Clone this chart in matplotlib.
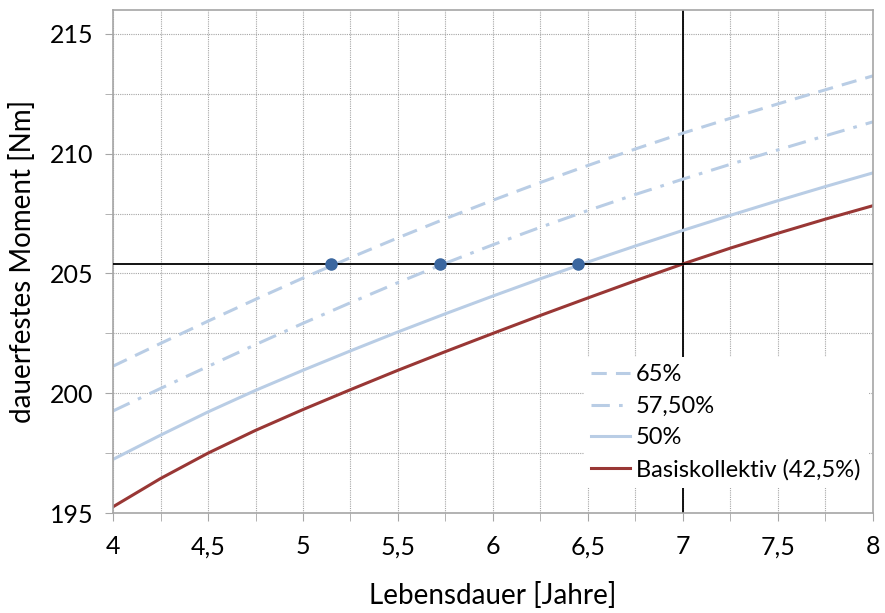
import matplotlib.pyplot as plt
from matplotlib.ticker import MultipleLocator, FuncFormatter

# Curve values (x = Lebensdauer in Jahren)
years = [4.0, 4.25, 4.5, 4.75, 5.0, 5.25, 5.5, 5.75, 6.0,
         6.25, 6.5, 6.75, 7.0, 7.25, 7.5, 7.75, 8.0]
m_65 = [201.13, 202.08, 203.01, 203.92, 204.81, 205.66, 206.49, 207.29, 208.06,
        208.8, 209.51, 210.2, 210.86, 211.48, 212.08, 212.67, 213.25]
m_575 = [199.26, 200.2, 201.12, 202.03, 202.92, 203.78, 204.62, 205.43, 206.2,
         206.93, 207.63, 208.3, 208.94, 209.56, 210.16, 210.75, 211.33]
m_50 = [197.24, 198.25, 199.22, 200.12, 200.96, 201.77, 202.56, 203.32, 204.06,
        204.78, 205.48, 206.15, 206.8, 207.43, 208.04, 208.63, 209.2]
m_base = [195.26, 196.44, 197.5, 198.45, 199.32, 200.15, 200.96, 201.74, 202.5,
          203.25, 203.98, 204.7, 205.4, 206.06, 206.68, 207.27, 207.83]

target_moment = 205.4
target_year = 7.0
cross_years = [5.15, 5.72, 6.45]

light_blue = "#b9cde5"
dark_red = "#993735"
dot_blue = "#3b67a0"

plt.rcParams["font.family"] = ["Lato", "DejaVu Sans"]

fig = plt.figure(figsize=(8.85, 6.13), dpi=100)
ax = fig.add_axes([0.1277, 0.1631, 0.8587, 0.8206])

ax.plot(years, m_65, color=light_blue, lw=2.2, dashes=(5, 3), label="65%")
ax.plot(years, m_575, color=light_blue, lw=2.2, dashes=(6, 3, 1.2, 3), label="57,50%")
ax.plot(years, m_50, color=light_blue, lw=2.2, label="50%")
ax.plot(years, m_base, color=dark_red, lw=2.2, label="Basiskollektiv (42,5%)")

ax.axhline(target_moment, color="black", lw=1.3, zorder=5)
ax.axvline(target_year, color="black", lw=1.3, zorder=1)
ax.plot(cross_years, [target_moment] * len(cross_years), "o", color=dot_blue,
        markersize=8, zorder=6)

ax.set_xlim(4, 8)
ax.set_ylim(195, 216)
ax.xaxis.set_major_locator(MultipleLocator(0.5))
ax.xaxis.set_minor_locator(MultipleLocator(0.25))
ax.yaxis.set_major_locator(MultipleLocator(5))
ax.yaxis.set_minor_locator(MultipleLocator(2.5))
ax.xaxis.set_major_formatter(FuncFormatter(lambda v, p: f"{v:g}".replace(".", ",")))

ax.grid(which="both", color="#a6a6a6", ls=(0, (1, 1)), lw=0.8)
ax.set_axisbelow(True)
for s in ax.spines.values():
    s.set_color("#a6a6a6")
    s.set_linewidth(1.2)

ax.tick_params(which="both", colors="#a6a6a6", labelcolor="black", labelsize=18,
               direction="out", length=6)
ax.tick_params(axis="x", pad=10)
ax.tick_params(axis="y", pad=8)

ax.set_xlabel("Lebensdauer [Jahre]", fontsize=20, labelpad=17)
ax.set_ylabel("dauerfestes Moment [Nm]", fontsize=20, labelpad=10)

leg = ax.legend(loc="upper left", bbox_to_anchor=(0.62, 0.31), fontsize=17,
                frameon=True, facecolor="white", edgecolor="none", framealpha=1,
                handlelength=1.65, handletextpad=0.25, labelspacing=0.45,
                borderaxespad=0, borderpad=0.3)
leg.set_zorder(3)

plt.savefig("out.png", dpi=100)
